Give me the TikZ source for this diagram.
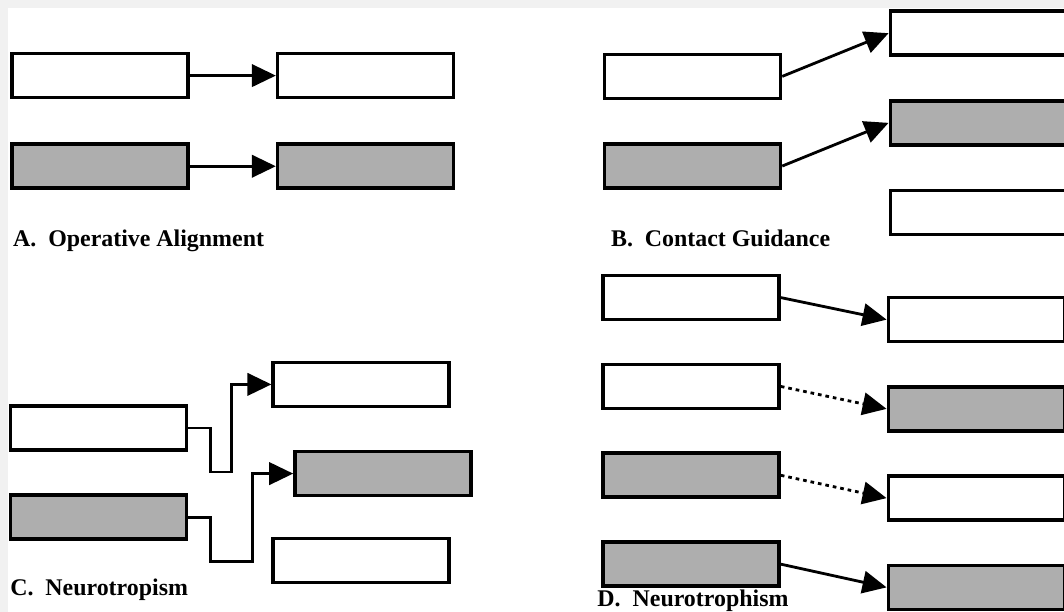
\documentclass[tikz,border=0pt]{standalone}
\usepackage{fontspec}
\setmainfont{Liberation Serif}
\usetikzlibrary{arrows.meta, positioning}
\definecolor{cellgray}{RGB}{174,174,174}
\definecolor{edgegray}{RGB}{241,241,241}

\begin{document}
\begin{tikzpicture}[
    node distance=1.05cm and 2.15cm,
    box/.style={draw, line width=2.6pt, minimum width=4.4cm, minimum height=1.1cm, inner sep=0pt},
    wbox/.style={box, fill=white},
    gbox/.style={box, fill=cellgray},
    arr/.style={-{Triangle[length=6mm, width=5.6mm]}, line width=2pt},
    darr/.style={arr, dash pattern=on 2.6pt off 2.8pt},
    ttl/.style={anchor=base west, inner sep=0pt, font=\fontsize{17}{20}\selectfont\bfseries},
]

% ---- Pozadina ----
\useasboundingbox (0,0) rectangle (26.6,-15.3);
\clip (0,0) rectangle (26.6,-15.3);
\fill[white] (0,0) rectangle (26.6,-15.3);
\fill[edgegray] (0,0) rectangle (26.6,-0.2);
\fill[edgegray] (0,0) rectangle (0.2,-15.3);

% ---- A. Operative Alignment ----
\node[wbox] at (2.5,-1.89) (a1) {};
\node[wbox, right=of a1] (a2) {};
\node[gbox, below=1.075cm of a1] (a3) {};
\node[gbox, right=of a3] (a4) {};
\node[ttl] at (0.32,-6.15) (atl) {A.\hspace{0.5em}Operative Alignment};

% ---- B. Contact Guidance ----
\node[wbox] at (17.31,-1.91) (b1) {};
\node[gbox, below=of b1] (b2) {};
\node[wbox] at (24.46,-0.83) (b3) {};
\node[gbox, below=of b3] (b4) {};
\node[wbox, below=of b4] (b5) {};
\node[ttl] at (15.27,-6.15) (btl) {B.\hspace{0.5em}Contact Guidance};

% ---- C. Neurotropism ----
\node[wbox] at (2.46,-10.7) (c1) {};
\node[gbox, below=1.04cm of c1] (c2) {};
\node[wbox] at (9.03,-9.61) (c3) {};
\node[gbox] at (9.575,-11.84) (c4) {};
\node[wbox] at (9.03,-14.01) (c5) {};
\node[ttl] at (0.25,-14.88) (ctl) {C.\hspace{0.5em}Neurotropism};

% ---- D. Neurotrophism ----
\node[wbox] at (17.275,-7.44) (d1) {};
\node[wbox, below=1.03cm of d1] (d2) {};
\node[gbox, below=1.03cm of d2] (d3) {};
\node[gbox, below=1.03cm of d3] (d4) {};
\node[wbox] at (24.41,-7.99) (d5) {};
\node[gbox, below=1.04cm of d5] (d6) {};
\node[wbox, below=1.04cm of d6] (d7) {};
\node[gbox, below=1.04cm of d7] (d8) {};
\node[ttl] at (14.93,-15.16) (dtl) {D.\hspace{0.5em}Neurotrophism};

% ---- Strelice ----
\draw[arr] (a1.east) -- (a2.west);
\draw[arr] (a3.east) -- (a4.west);
\draw[arr] (b1.east) -- (b3.west);
\draw[arr] (b2.east) -- (b4.west);
\draw[arr] (c1.east) -- ++(0.55,0) -- ++(0,-1.1) -- ++(0.53,0) |- (c3.west);
\draw[arr] (c2.east) -- ++(0.55,0) -- ++(0,-1.1) -- ++(1.05,0) |- (c4.west);
\draw[arr] (d1.east) -- (d5.west);
\draw[darr] (d2.east) -- (d6.west);
\draw[darr] (d3.east) -- (d7.west);
\draw[arr] (d4.east) -- (d8.west);

\end{tikzpicture}
\end{document}
